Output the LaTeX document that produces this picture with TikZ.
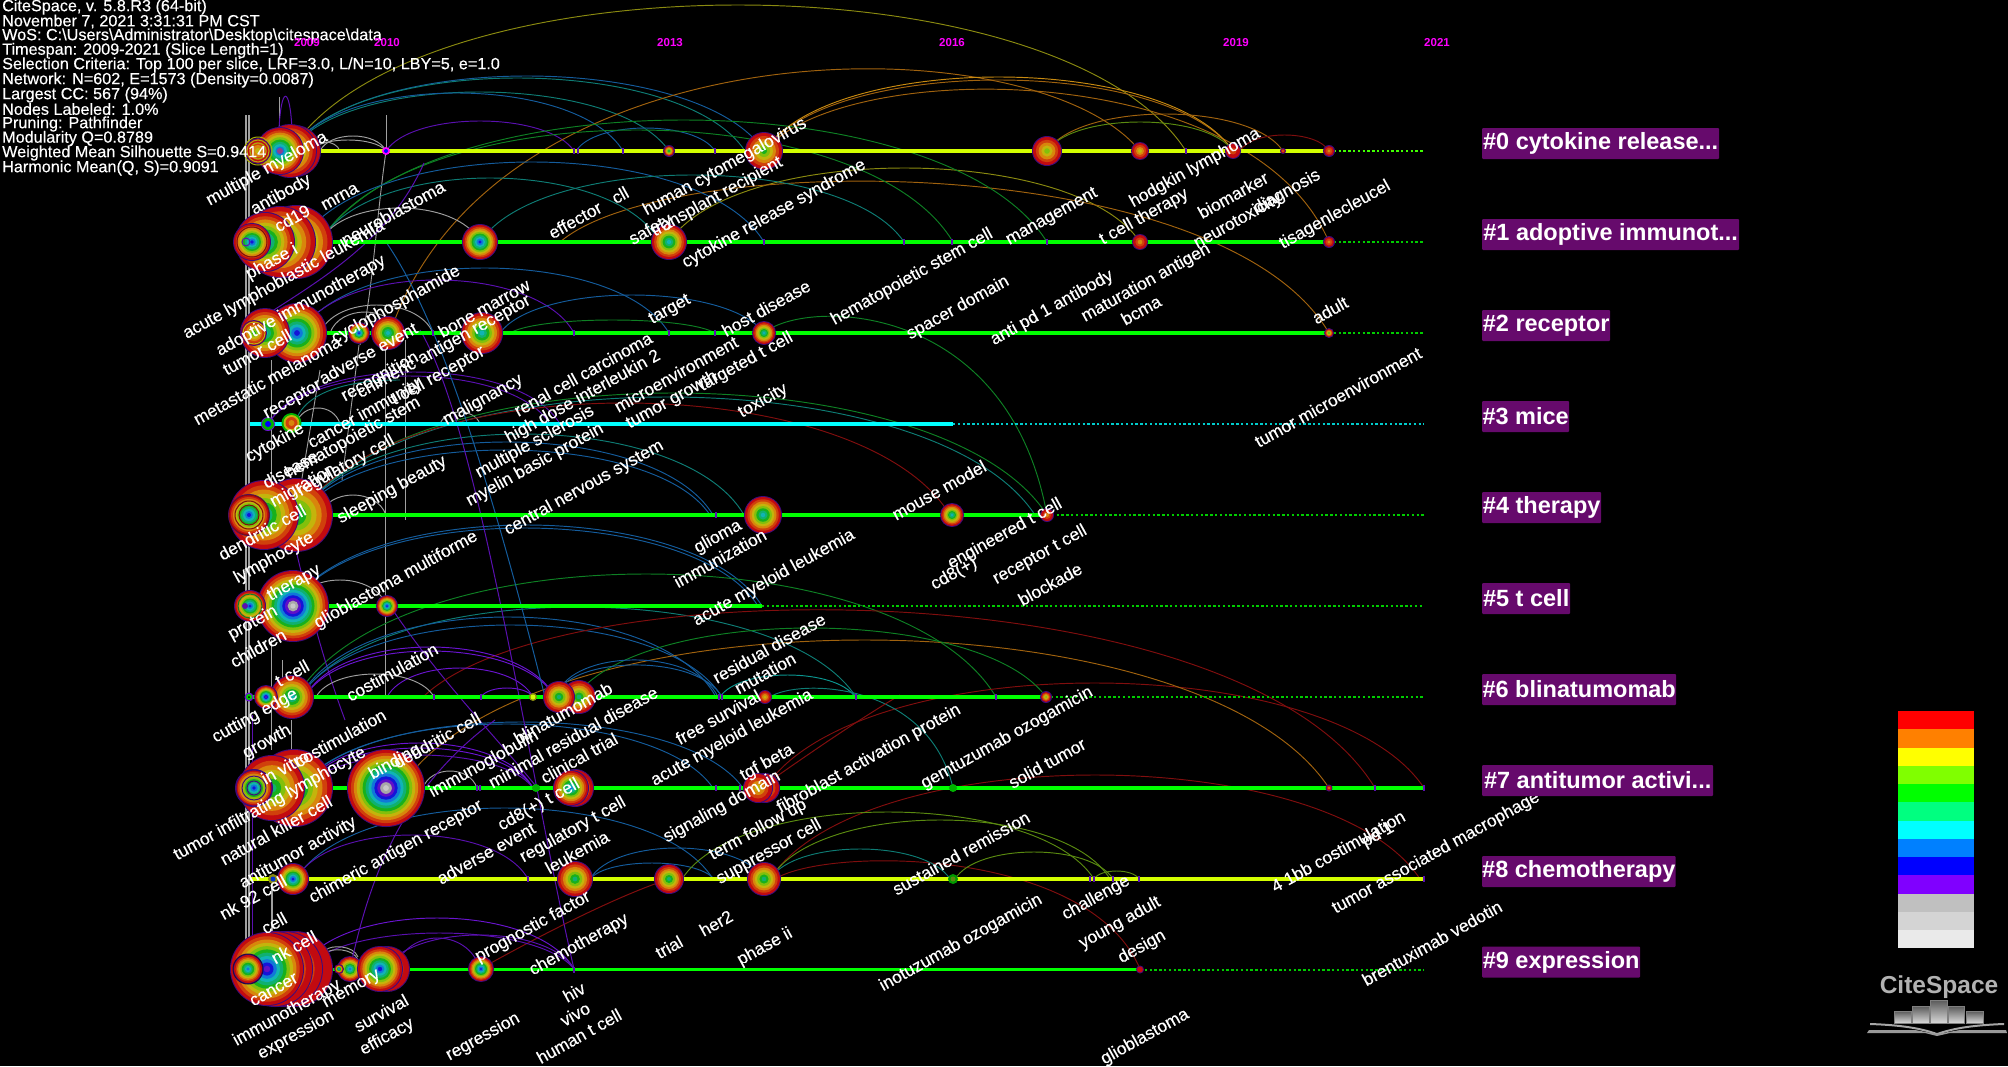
\documentclass[tikz,border=0pt]{standalone}
\usepackage{fontspec}
\setmainfont{Liberation Sans}
\newfontfamily\kwfont[FakeBold=0.4]{Liberation Sans}
\definecolor{rc0}{HTML}{C20A10}
\definecolor{rc1}{HTML}{D0400C}
\definecolor{rc2}{HTML}{D8860C}
\definecolor{rc3}{HTML}{C4B40C}
\definecolor{rc4}{HTML}{82C00C}
\definecolor{rc5}{HTML}{18B01C}
\definecolor{rc6}{HTML}{10B070}
\definecolor{rc7}{HTML}{10B4B4}
\definecolor{rc8}{HTML}{1078D8}
\definecolor{rc9}{HTML}{1414D8}
\definecolor{rc10}{HTML}{6010C8}
\definecolor{rc11}{HTML}{A8A8A8}
\definecolor{rc12}{HTML}{C8C8C8}
\definecolor{aPur}{HTML}{5A10B0}
\definecolor{aVio}{HTML}{6A14D0}
\definecolor{aBlu}{HTML}{145C9C}
\definecolor{aTea}{HTML}{0E7C74}
\definecolor{aGrn}{HTML}{0E8024}
\definecolor{aOlv}{HTML}{8A8A10}
\definecolor{aLim}{HTML}{5A8A10}
\definecolor{aOrg}{HTML}{A0620E}
\definecolor{aGld}{HTML}{C88A10}
\definecolor{aRed}{HTML}{800E0E}
\definecolor{aGry}{HTML}{A0A0A0}
\definecolor{laneY}{HTML}{D4FF00}
\definecolor{laneG}{HTML}{00FF00}
\definecolor{laneC}{HTML}{00FFFF}
\definecolor{yrM}{HTML}{FF00FF}
\definecolor{boxP}{HTML}{660A6C}
\newcounter{kwc}
\newcommand{\tree}[4]{%
  \fill[aPur!70!black] (#1,#2) circle[radius=#3];
  \foreach \i in {0,...,#4}{%
    \pgfmathsetmacro\rr{(#3-1)*(1-\i/(#4+1))}
    \fill[rc\i] (#1,#2) circle[radius=\rr];
  }%
}
\newcommand{\arcq}[6]{%
  \pgfmathsetmacro\yc{(4/3)*(#6-(#3+#5)/8)}
  \pgfmathsetmacro\xa{#2+0.14*(#4-#2)}
  \pgfmathsetmacro\xb{#4-0.14*(#4-#2)}
  \draw[#1,line width=.95pt] (#2,#3) .. controls (\xa,\yc) and (\xb,\yc) .. (#4,#5);
}
\newcommand{\kw}[3]{%
  \stepcounter{kwc}%
  \node[kwstyle] (k\arabic{kwc}) at (#1,#2) {#3};
}
\newcommand{\clutext}[1]{\raisebox{-1.5pt}{#1}}
\tikzset{
  kwstyle/.style={text=white,rotate=29,inner sep=0pt,font=\kwfont\fontsize{17.4}{19}\selectfont},
  meta/.style={text=white,anchor=west,inner sep=0pt,font=\kwfont\fontsize{16.2}{17}\selectfont},
  yr/.style={text=yrM,inner sep=0pt,font=\fontsize{11.5}{13}\bfseries\selectfont},
  clu/.style={fill=boxP,text=white,anchor=west,inner sep=0pt,rounded corners=1pt,minimum height=31pt,align=left,font=\fontsize{23.5}{26}\bfseries\selectfont},
  lane/.style={line width=3.2pt},
  dots/.style={line width=2pt,dash pattern=on 2.4pt off 2.4pt},
  vline/.style={aGry,line width=.9pt}
}
\begin{document}
\begin{tikzpicture}[x=1pt,y=-1pt]
\fill[black] (0,0) rectangle (2008,1066);
\useasboundingbox (0,0) rectangle (2008,1066);
% vertical bundles
\foreach \a in {246,249}{\draw[vline,line width=1.1pt] (\a,115) -- (\a,940);}
\draw[aPur] (252,715) -- (252,940);
\draw[vline,line width=1.2pt] (272,880) -- (272,932);
\draw[vline] (279,97) -- (279,132);
\draw[vline] (386,115) -- (386,151);
\draw[vline] (386,151) .. controls (375,230) and (372,300) .. (360,345);
\draw[vline] (385,345) -- (385,697);
\draw[vline] (405,340) -- (405,520);
\draw[vline] (359,345) -- (342,480);
\draw[vline] (320,370) -- (300,490);
\draw[vline] (271,360) -- (271,480);
\draw[vline] (271,640) -- (271,750);
\draw[vline] (291,720) -- (291,770);
\draw[vline] (282,660) -- (282,700);
\draw[aPur,line width=1pt] (279,130) .. controls (281,85) and (290,85) .. (292,130);
% arcs lane 0
\arcq{aOlv}{290}{151}{1186}{151}{5}
\arcq{aBlu}{290}{151}{764}{151}{76}
\arcq{aTea}{290}{151}{745}{151}{78}
\arcq{aTea}{290}{151}{669}{151}{92}
\arcq{aBlu}{290}{151}{623}{151}{93}
\arcq{aPur}{386}{151}{574}{151}{121}
\arcq{aBlu}{576}{151}{715}{151}{128}
\arcq{aOrg}{390}{333}{1140}{151}{76}
\arcq{aOrg}{764}{151}{1329}{242}{92}
\arcq{aOrg}{764}{151}{1233}{151}{80}
\arcq{aGld}{764}{151}{1233}{151}{77}
\arcq{aOrg}{1047}{151}{1283}{151}{114}
\arcq{aLim}{1047}{151}{1233}{151}{122}
\arcq{aRed}{1240}{151}{1329}{151}{135}
\arcq{aGry}{320}{151}{386}{151}{136}
\arcq{aGry}{310}{151}{386}{151}{140}
\arcq{aGry}{310}{151}{340}{151}{142}
% lane 1
\arcq{aOlv}{669}{242}{1140}{242}{168}
\arcq{aOrg}{560}{242}{1329}{333}{184}
\arcq{aGrn}{320}{242}{1047}{242}{120}
\arcq{aGrn}{320}{242}{953}{242}{130}
\arcq{aBlu}{300}{242}{764}{242}{162}
\arcq{aTea}{320}{242}{660}{242}{178}
\arcq{aTea}{480}{242}{904}{242}{175}
\arcq{aGry}{320}{242}{480}{242}{208}
% lane 2
\arcq{aBlu}{300}{333}{669}{333}{268}
\arcq{aPur}{300}{333}{574}{333}{280}
\arcq{aBlu}{500}{333}{764}{333}{295}
\arcq{aGrn}{510}{333}{715}{333}{320}
\arcq{aGry}{320}{333}{433}{333}{305}
\arcq{aGry}{330}{333}{400}{333}{312}
\arcq{aGrn}{764}{333}{1047}{515}{330}
% lane 3
\arcq{aPur}{268}{424}{560}{424}{372}
\arcq{aPur}{268}{424}{550}{424}{376}
\arcq{aGry}{296}{424}{340}{424}{408}
\arcq{aTea}{296}{420}{400}{380}{385}
\arcq{aGry}{440}{424}{480}{424}{412}
% lane 4
\arcq{aGrn}{300}{515}{1047}{515}{393}
\arcq{aTea}{300}{515}{1035}{515}{397}
\arcq{aRed}{300}{515}{950}{515}{403}
\arcq{aTea}{300}{515}{744}{515}{434}
\arcq{aBlu}{300}{515}{713}{515}{442}
\arcq{aBlu}{300}{515}{710}{515}{450}
\arcq{aGry}{320}{515}{386}{515}{495}
% lane 5
\arcq{aBlu}{290}{606}{762}{606}{525}
\arcq{aBlu}{290}{606}{758}{606}{528}
\arcq{aGrn}{296}{697}{996}{697}{574}
\arcq{aGry}{293}{606}{387}{606}{580}
\draw[aPur,line width=1pt] (296,550) .. controls (312,620) and (330,680) .. (345,720);
\draw[aPur,line width=1pt] (390,606) .. controls (440,680) and (490,730) .. (535,785);
% lane 6
\arcq{aTea}{300}{697}{856}{697}{607}
\arcq{aBlu}{300}{697}{716}{697}{617}
\arcq{aBlu}{300}{697}{722}{697}{625}
\arcq{aRed}{423}{697}{1375}{788}{612}
\arcq{aRed}{765}{788}{1424}{788}{683}
\arcq{aOrg}{400}{788}{1329}{788}{640}
\arcq{aGrn}{575}{697}{1046}{697}{628}
\arcq{aTea!80!cyan}{720}{697}{855}{697}{675}
\arcq{aVio}{305}{697}{555}{697}{647}
\arcq{aVio}{305}{697}{555}{697}{651}
\arcq{aVio}{387}{697}{533}{697}{668}
\arcq{aVio}{481}{697}{533}{697}{688}
\arcq{aGry}{316}{697}{434}{697}{674}
\arcq{aBlu}{559}{690}{718}{697}{660}
\arcq{aBlu}{559}{690}{722}{697}{665}
% lane 7
\arcq{aBlu}{300}{788}{743}{788}{722}
\arcq{aBlu}{300}{788}{713}{788}{724}
\arcq{aVio}{305}{788}{533}{788}{743}
\arcq{aVio}{305}{788}{533}{788}{748}
\arcq{aPur}{305}{788}{533}{788}{755}
\arcq{aTea}{770}{697}{953}{788}{695}
\arcq{aGry}{423}{788}{477}{788}{771}
% lane 8
\arcq{aBlu}{296}{879}{713}{879}{808}
\arcq{aPur}{296}{879}{528}{879}{835}
\arcq{aBlu}{590}{879}{764}{879}{848}
\arcq{aBlu}{590}{879}{714}{879}{863}
\arcq{aRed}{775}{879}{1140}{969}{866}
\arcq{aRed}{770}{879}{1420}{879}{775}
\arcq{aLim}{682}{879}{1094}{879}{812}
\arcq{aLim}{770}{879}{1110}{879}{820}
\arcq{aTea}{770}{879}{950}{879}{849}
\arcq{aLim}{955}{879}{1113}{879}{852}
\arcq{aLim}{1094}{879}{1139}{879}{871}
\draw[aRed,line width=1pt] (480,969) .. controls (550,930) and (620,895) .. (669,879);
\draw[aRed,line width=1pt] (760,788) .. controls (800,760) and (850,725) .. (900,695);
% lane 9
\arcq{aVio}{300}{969}{574}{969}{918}
\arcq{aPur}{305}{969}{574}{969}{933}
\arcq{aPur}{385}{969}{574}{969}{935}
\arcq{aPur}{395}{969}{480}{969}{938}
\arcq{aGry}{326}{950}{358}{957}{947}
\arcq{aGry}{326}{953}{358}{960}{950}
% long crossing curves
\draw[aBlu,line width=1pt] (386,242) .. controls (440,320) and (490,480) .. (545,697);
\draw[aPur,line width=1pt] (420,330) .. controls (480,430) and (530,780) .. (574,969);
\draw[aPur,line width=1pt] (352,960) .. controls (370,880) and (400,790) .. (495,720);
\draw[aPur,line width=1pt] (424,163) .. controls (390,240) and (320,280) .. (263,317);
% lanes
\foreach \yy/\xe/\col in {151/1329/laneY,242/1329/laneG,333/1329/laneG,424/953/laneC,515/1047/laneG,606/762/laneG,697/1046/laneG,788/1424/laneG,879/1424/laneY,969.5/1140/laneG}{
  \draw[\col,lane] (250,\yy) -- (\xe,\yy);
}
\foreach \yy/\xs/\col in {151/1329/laneG!75!yellow,242/1329/laneG!80!black,333/1329/laneG!80!black,424/953/laneC!80!black,515/1047/laneG!80!black,606/762/laneG!80!black,697/1046/laneG!80!black,969.5/1140/laneG!80!black}{
  \draw[\col,dots] (\xs,\yy) -- (1424,\yy);
}
% ticks
\foreach \xx/\yy in {574/151,578/151,623/151,715/151,1186/151,764/242,904/242,952/242,1047/242,433/333,574/333,669/333,715/333,716/515,434/697,481/697,719/697,722/697,856/697,996/697,477/788,480/788,716/788,740/788,1375/788,1424/788,528/879,1090/879,1094/879,1113/879,1139/879,1424/879,574/969.5}{
  \draw[aPur,line width=1.2pt] (\xx,\yy-3) -- (\xx,\yy+3);
}
% lane 0 nodes
\tree{295}{151}{26}{6}
\tree{290}{151}{27}{7}
\tree{280}{151}{24}{9}
\fill[aGry!40!violet] (280,151) circle[radius=3];
\tree{258}{151}{13}{3}
\foreach \rr in {14,11,8}{\draw[aOlv!70!yellow,line width=1pt] (258,151) circle[radius=\rr];}
\fill[yrM] (386,151) circle[radius=4]; \fill[blue] (386,151) circle[radius=2];
\tree{669}{151}{6}{6}
\tree{764}{151}{19}{5}
\tree{1047}{151}{15}{4}
\tree{1140}{151}{9}{3}
\tree{1233}{151}{8}{1}
\tree{1283}{151}{3}{2}
\tree{1329}{151}{6}{2}
% lane 1
\tree{296}{242}{37}{7}
\tree{280}{242}{36}{7}
\tree{265}{242}{30}{8}
\tree{252}{242}{19}{9}
\draw[aRed,line width=1pt] (252,242) circle[radius=15];
\draw[aPur,line width=1pt] (246,242) circle[radius=4];
\tree{480}{242}{18}{9}
\tree{669}{242}{18}{7}
\tree{1140}{242}{8}{2}
\tree{1329}{242}{6}{2}
% lane 2
\tree{297}{333}{30}{9}
\tree{265}{333}{25}{7}
\tree{254}{333}{13}{5}
\draw[aOlv!60!yellow,line width=1pt] (254,333) circle[radius=11];
\tree{388}{333}{17}{7}
\tree{359}{333}{11}{9}
\tree{482}{333}{21}{7}
\tree{764}{333}{12}{7}
\tree{1329}{333}{5}{5}
% lane 3
\fill[aVio] (268,424) circle[radius=7]; \fill[laneG!70!black] (268,424) circle[radius=6]; \fill[blue] (268,424) circle[radius=3];
\fill[laneG!70!black] (291.5,423) circle[radius=10]; \fill[rc3] (291.5,423) circle[radius=8]; \fill[rc1] (291.5,423) circle[radius=6]; \fill[rc2] (291.5,423) circle[radius=3];
% lane 4
\tree{296}{515}{37}{6}
\tree{264}{515}{35}{7}
\tree{249}{515}{21}{9}
\foreach \rr in {20,14,10}{\draw[aRed,line width=1pt] (249,515) circle[radius=\rr];}
\tree{763}{515}{19}{7}
\tree{952}{515}{12}{7}
\tree{1047}{515}{7}{2}
% lane 5
\tree{293}{606}{36}{12}
\tree{250}{606}{16}{9}
\draw[aGrn,line width=1pt] (250,606) circle[radius=12];
\fill[aPur] (245,606) circle[radius=3];
\tree{387}{606}{11}{9}
% lane 6
\tree{292}{697}{22}{7}
\tree{266}{697}{12}{10}
\fill[aVio] (249,697) circle[radius=4.5]; \fill[laneG!80!black] (249,697) circle[radius=3]; \fill[black] (249,697) circle[radius=1];
\tree{579}{697}{17}{6}
\tree{559}{697}{16}{6}
\fill[aOlv] (533,697) circle[radius=4]; \fill[laneY] (533,697) circle[radius=2.5];
\tree{765}{697}{7}{3}
\tree{1046}{697}{6}{4}
% lane 7
\tree{294}{788}{39}{7}
\tree{272}{788}{33}{6}
\tree{254}{788}{19}{9}
\foreach \rr in {18,12,7}{\draw[aPur!70!black,line width=1pt] (254,788) circle[radius=\rr];}
\tree{386}{788}{39}{12}
\fill[laneG!70!black] (536,788) circle[radius=4];
\tree{575}{788}{19}{5}
\tree{571}{788}{18}{8}
\tree{765}{788}{15}{3}
\tree{758}{788}{15}{3}
\fill[laneG!70!black] (953,788) circle[radius=4];
\tree{1329}{788}{3.5}{2}
% lane 8
\tree{293}{879}{16}{9}
\fill[aOlv] (273,879) circle[radius=5]; \fill[blue!80!green] (273,879) circle[radius=2.5];
\tree{575}{879}{18}{6}
\tree{669}{879}{15}{6}
\tree{764}{879}{17}{6}
\fill[laneG!60!black] (953,879) circle[radius=5]; \fill[aLim] (953,879) circle[radius=2.5];
% lane 9
\tree{295}{969}{38}{3}
\tree{285}{969}{38}{4}
\tree{275}{969}{38}{5}
\tree{267}{969}{37}{10}
\tree{248}{969}{15}{8}
\foreach \rr in {15}{\draw[black!60!aPur,line width=1pt] (248,969) circle[radius=\rr];}
\tree{350}{969}{13}{8}
\tree{339}{969}{5}{9}
\tree{387}{969}{23}{3}
\tree{380}{969}{23}{9}
\tree{481}{969}{13}{9}
\tree{1140}{969.5}{4}{0}
% metadata
\node[meta] (m1) at (2,7) {CiteSpace, v. 5.8.R3 (64-bit)};
\node[meta] (m2) at (2,21.5) {November 7, 2021 3:31:31 PM CST};
\node[meta] (m3) at (2,36) {WoS: C:\textbackslash Users\textbackslash Administrator\textbackslash Desktop\textbackslash citespace\textbackslash data};
\node[meta] (m4) at (2,50.5) {Timespan: 2009-2021 (Slice Length=1)};
\node[meta] (m5) at (2,65) {Selection Criteria: Top 100 per slice, LRF=3.0, L/N=10, LBY=5, e=1.0};
\node[meta] (m6) at (2,80) {Network: N=602, E=1573 (Density=0.0087)};
\node[meta] (m7) at (2,95) {Largest CC: 567 (94\%)};
\node[meta] (m8) at (2,109) {Nodes Labeled: 1.0\%};
\node[meta] (m9) at (2,124) {Pruning: Pathfinder};
\node[meta] (m10) at (2,138.5) {Modularity Q=0.8789};
\node[meta] (m11) at (2,153) {Weighted Mean Silhouette S=0.9414};
\node[meta] (m12) at (2,168) {Harmonic Mean(Q, S)=0.9091};
% years
\node[yr] (y1) at (307,43) {2009};
\node[yr] (y2) at (387,43) {2010};
\node[yr] (y3) at (670,43) {2013};
\node[yr] (y4) at (952,43) {2016};
\node[yr] (y5) at (1236,43) {2019};
\node[yr] (y6) at (1437,43) {2021};
% keywords
\kw{267}{169}{multiple myeloma}
\kw{281}{195}{antibody}
\kw{292}{218}{cd19}
\kw{340}{197}{mrna}
\kw{393}{213}{neuroblastoma}
\kw{575}{220}{effector}
\kw{620}{195}{cll}
\kw{272}{262}{phase i}
\kw{284}{280}{acute lymphoblastic leukemia}
\kw{301}{306}{adoptive immunotherapy}
\kw{396}{305}{cyclophosphamide}
\kw{257}{352}{tumor cell}
\kw{267}{380}{metastatic melanoma}
\kw{368}{353}{adverse event}
\kw{293}{400}{receptor}
\kw{380}{377}{recognition}
\kw{444}{347}{chimeric antigen receptor}
\kw{438}{376}{t cell receptor}
\kw{484}{308}{bone marrow}
\kw{670}{310}{target}
\kw{275}{443}{cytokine}
\kw{365}{414}{cancer immunity}
\kw{353}{438}{hematopoietic stem}
\kw{290}{469}{disease}
\kw{346}{466}{regulatory cell}
\kw{303}{486}{migration}
\kw{392}{490}{sleeping beauty}
\kw{483}{400}{malignancy}
\kw{583}{374}{renal cell carcinoma}
\kw{583}{397}{high dose interleukin 2}
\kw{676}{374}{microenvironment}
\kw{672}{400}{tumor growth}
\kw{746}{362}{targeted t cell}
\kw{766}{308}{host disease}
\kw{763}{401}{toxicity}
\kw{535}{442}{multiple sclerosis}
\kw{535}{465}{myelin basic protein}
\kw{584}{488}{central nervous system}
\kw{718}{537}{glioma}
\kw{720}{558}{immunization}
\kw{939}{490}{mouse model}
\kw{1005}{534}{engineered t cell}
\kw{1040}{555}{receptor t cell}
\kw{954}{574}{cd8(+)}
\kw{1050}{584}{blockade}
\kw{262}{532}{dendritic cell}
\kw{274}{558}{lymphocyte}
\kw{294}{583}{therapy}
\kw{253}{623}{protein}
\kw{258}{648}{children}
\kw{396}{580}{glioblastoma multiforme}
\kw{774}{578}{acute myeloid leukemia}
\kw{292}{673}{t cell}
\kw{255}{716}{cutting edge}
\kw{392}{672}{costimulation}
\kw{769}{648}{residual disease}
\kw{765}{673}{mutation}
\kw{718}{717}{free survival}
\kw{732}{738}{acute myeloid leukemia}
\kw{563}{713}{blinatumomab}
\kw{484}{764}{immunoglobulin}
\kw{573}{737}{minimal residual disease}
\kw{395}{762}{binding}
\kw{437}{740}{dendritic cell}
\kw{285}{767}{in vitro}
\kw{340}{738}{costimulation}
\kw{270}{804}{tumor infiltrating lymphocyte}
\kw{276}{830}{natural killer cell}
\kw{267}{742}{growth}
\kw{298}{853}{antitumor activity}
\kw{396}{852}{chimeric antigen receptor}
\kw{539}{805}{cd8(+) t cell}
\kw{579}{758}{clinical trial}
\kw{486}{853}{adverse event}
\kw{573}{830}{regulatory t cell}
\kw{767}{763}{tgf beta}
\kw{722}{807}{signaling domain}
\kw{869}{759}{fibroblast activation protein}
\kw{1007}{738}{gemtuzumab ozogamicin}
\kw{1047}{763}{solid tumor}
\kw{758}{830}{term follow up}
\kw{769}{852}{suppressor cell}
\kw{577}{852}{leukemia}
\kw{253}{897}{nk 92 cell}
\kw{274}{923}{cell}
\kw{533}{927}{prognostic factor}
\kw{579}{945}{chemotherapy}
\kw{669}{947}{trial}
\kw{716}{923}{her2}
\kw{765}{947}{phase ii}
\kw{961}{853}{sustained remission}
\kw{1096}{898}{challenge}
\kw{1120}{923}{young adult}
\kw{1142}{947}{design}
\kw{961}{943}{inotuzumab ozogamicin}
\kw{1338}{851}{4 1bb costimulation}
\kw{1378}{835}{pd 1}
\kw{1436}{853}{tumor associated macrophage}
\kw{1432}{943}{brentuximab vedotin}
\kw{1145}{1037}{glioblastoma}
\kw{294}{947}{nk cell}
\kw{274}{990}{cancer}
\kw{287}{1013}{immunotherapy}
\kw{352}{990}{memory}
\kw{296}{1035}{expression}
\kw{381}{1013}{survival}
\kw{387}{1037}{efficacy}
\kw{483}{1037}{regression}
\kw{574}{992}{hiv}
\kw{575}{1014}{vivo}
\kw{579}{1036}{human t cell}
\kw{725}{167}{human cytomegalovirus}
\kw{717}{197}{transplant recipient}
\kw{651}{230}{safety}
\kw{774}{214}{cytokine release syndrome}
\kw{912}{277}{hematopoietic stem cell}
\kw{1052}{217}{management}
\kw{958}{308}{spacer domain}
\kw{1052}{308}{anti pd 1 antibody}
\kw{1146}{283}{maturation antigen}
\kw{1141}{310}{bcma}
\kw{1144}{217}{t cell therapy}
\kw{1195}{168}{hodgkin lymphoma}
\kw{1233}{195}{biomarker}
\kw{1238}{221}{neurotoxicity}
\kw{1287}{192}{diagnosis}
\kw{1335}{215}{tisagenlecleucel}
\kw{1330}{310}{adult}
\kw{1338}{397}{tumor microenvironment}
% cluster labels
\node[clu,minimum width=237pt] (c0) at (1482,143.5) {\clutext{\#0 cytokine release...}};
\node[clu,minimum width=257pt] (c1) at (1482,234.5) {\clutext{\#1 adoptive immunot...}};
\node[clu,minimum width=128pt] (c2) at (1482,325.5) {\clutext{\#2 receptor}};
\node[clu,minimum width=87pt] (c3) at (1482,416.5) {\clutext{\#3 mice}};
\node[clu,minimum width=119pt] (c4) at (1482,507.5) {\clutext{\#4 therapy}};
\node[clu,minimum width=88pt] (c5) at (1482,598.5) {\clutext{\#5 t cell}};
\node[clu,minimum width=194pt] (c6) at (1482,689.5) {\clutext{\#6 blinatumomab}};
\node[clu,minimum width=231pt] (c7) at (1482,780.5) {\clutext{\#7 antitumor activi...}};
\node[clu,minimum width=193pt] (c8) at (1482,871.5) {\clutext{\#8 chemotherapy}};
\node[clu,minimum width=158pt] (c9) at (1482,962) {\clutext{\#9 expression}};
% legend
\foreach \n/\col in {0/FF0000,1/FF8000,2/FFFF00,3/80FF00,4/00FF00,5/00FF80,6/00FFFF,7/0080FF,8/0000FF,9/8000FF,10/C0C0C0,11/D4D4D4,12/EAEAEA}{
  \definecolor{lg}{HTML}{\col}
  \fill[lg] (1898,711+\n*18.25) rectangle (1974,711+\n*18.25+18.25);
}
% logo
\node[text=gray!60!white,inner sep=0pt,font=\fontsize{24.5}{28}\bfseries\selectfont] (logo) at (1939,987) {CiteSpace};
\foreach \xa/\ya/\xb in {1894/1011/1911,1912/1006/1929,1930/1000/1947,1948/1006/1964,1966/1011/1983}{
  \shade[top color=gray!70!black,bottom color=white!85!black,draw=gray] (\xa,\ya) rectangle (\xb,1023);
}
\fill[gray!70!white] (1870,1023) .. controls (1900,1024) and (1920,1027) .. (1937,1033) .. controls (1954,1027) and (1975,1024) .. (2004,1023) -- (2004,1025) .. controls (1975,1026) and (1954,1029) .. (1937,1035) .. controls (1920,1029) and (1900,1026) .. (1870,1025) -- cycle;
\fill[gray!80!white] (1869,1030) -- (1915,1030) -- (1937,1034) -- (1960,1030) -- (2006,1030) -- (2007,1033) -- (1950,1033) -- (1937,1036) -- (1925,1033) -- (1867,1033) -- cycle;
\end{tikzpicture}
\end{document}
